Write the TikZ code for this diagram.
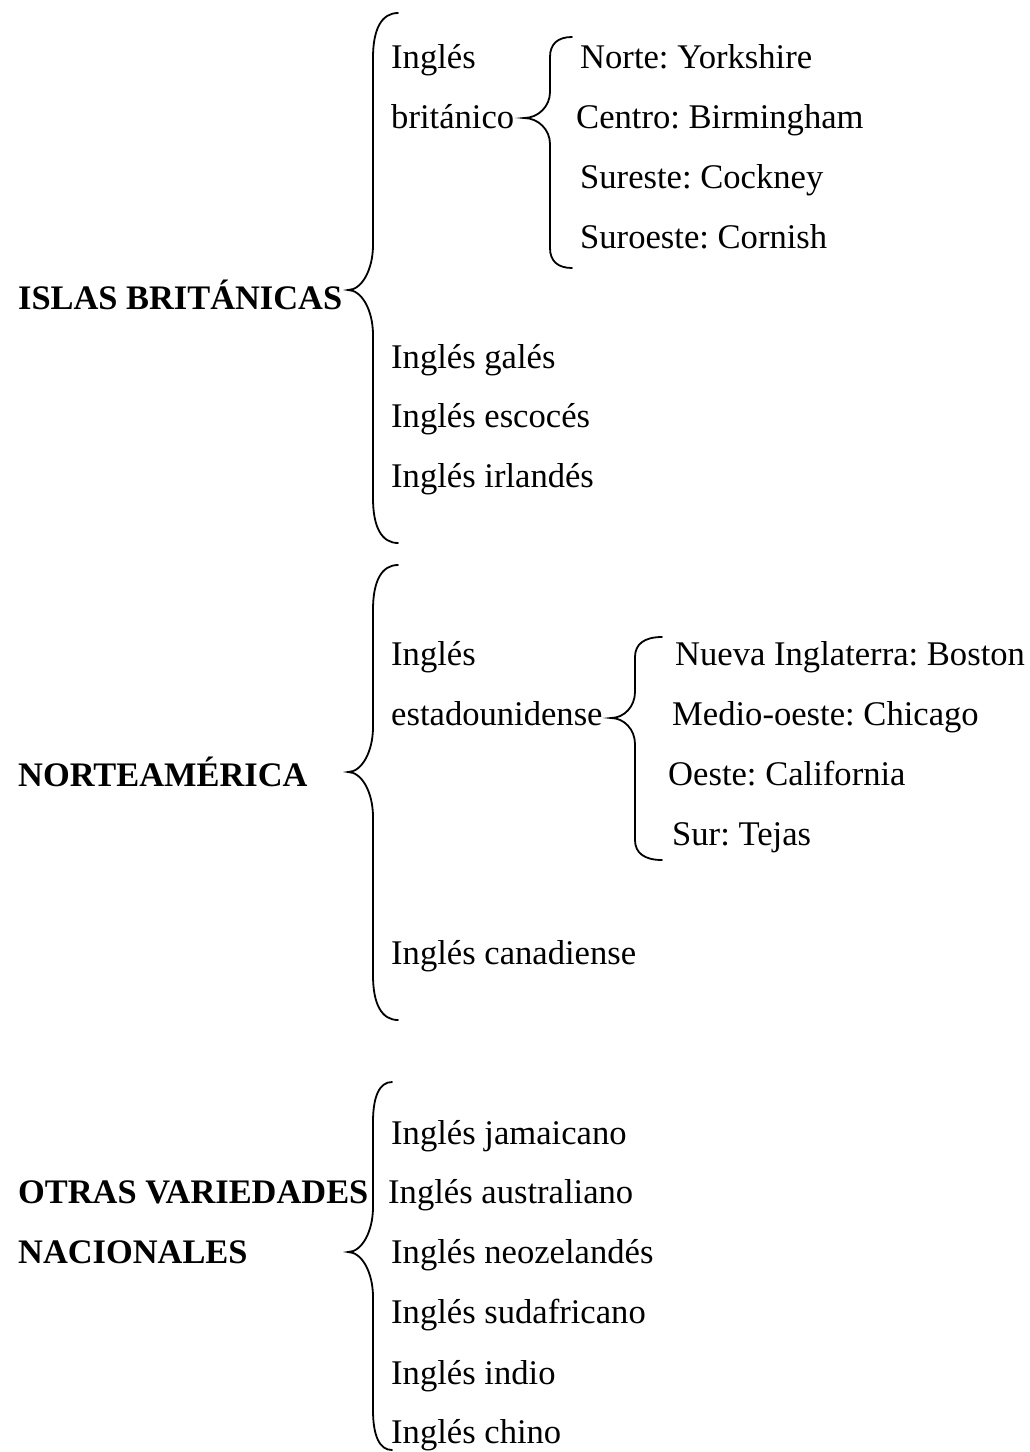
\documentclass[tikz,border=0pt]{standalone}
\usepackage{fontspec}
\setmainfont{Liberation Serif}
\frenchspacing
\begin{document}
% Curly brace: end x, line x, tip x, top y, tip y, bottom y, hook length, bend length
\newcommand\curly[8]{%
  \draw[bracestroke] (#1,#4) .. controls ({#2+0.35*(#1-#2)},#4) and (#2,{#4+0.35*#7}) .. (#2,{#4+#7})
    -- (#2,{#5-#8}) .. controls (#2,{#5-0.45*#8}) and ({#3+0.55*(#2-#3)},#5) .. (#3,#5)
    .. controls ({#3+0.55*(#2-#3)},#5) and (#2,{#5+0.45*#8}) .. (#2,{#5+#8})
    -- (#2,{#6-#7}) .. controls (#2,{#6-0.35*#7}) and ({#2+0.35*(#1-#2)},#6) .. (#1,#6);}
\begin{tikzpicture}[x=1pt,y=-1pt,
  lbl/.style={anchor=base west, inner sep=0pt, font=\fontsize{34.6}{42}\selectfont},
  head/.style={lbl, font=\fontsize{34.4}{42}\selectfont\bfseries},
  bracestroke/.style={line width=1.8pt, line cap=round}]
\useasboundingbox (0,0) rectangle (1029,1452);

% Islas Británicas
\node[head] (islas) at (18,309) {ISLAS BRITÁNICAS};
\curly{398}{373}{348}{13}{290}{543}{45}{45}
\node[lbl] (brit1) at (391,68) {Inglés};
\node[lbl] (brit2) at (391,128) {británico};
\curly{572}{550}{524}{37}{118}{268}{20}{26}
\node[lbl] (norte) at (580,68) {Norte: Yorkshire};
\node[lbl] (centro) at (576,128) {Centro: Birmingham};
\node[lbl] (sureste) at (580,188) {Sureste: Cockney};
\node[lbl] (suroeste) at (580,248) {Suroeste: Cornish};
\node[lbl] (gales) at (391,368) {Inglés galés};
\node[lbl] (escoces) at (391,427) {Inglés escocés};
\node[lbl] (irlandes) at (391,487) {Inglés irlandés};

% Norteamérica
\node[head] (norteam) at (18,786) {NORTEAMÉRICA};
\curly{398}{373}{348}{565}{772}{1020}{45}{45}
\node[lbl] (usa1) at (391,665) {Inglés};
\node[lbl] (usa2) at (391,725) {estadounidense};
\curly{662}{635}{611}{637}{718}{860}{20}{26}
\node[lbl] (nueva) at (675,665) {Nueva Inglaterra: Boston};
\node[lbl] (medio) at (672,725) {Medio-oeste: Chicago};
\node[lbl] (oeste) at (668,785) {Oeste: California};
\node[lbl] (sur) at (672,845) {Sur: Tejas};
\node[lbl] (canad) at (391,964) {Inglés canadiense};

% Otras variedades nacionales
\node[head] (otras1) at (18,1203) {OTRAS VARIEDADES};
\node[head] (otras2) at (18,1263) {NACIONALES};
\curly{392}{373}{348}{1082}{1252}{1450}{40}{45}
\node[lbl] (jam) at (391,1144) {Inglés jamaicano};
\node[lbl] (aus) at (388,1203) {Inglés australiano};
\node[lbl] (nz) at (391,1263) {Inglés neozelandés};
\node[lbl] (sud) at (391,1323) {Inglés sudafricano};
\node[lbl] (indio) at (391,1384) {Inglés indio};
\node[lbl] (chino) at (391,1443) {Inglés chino};
\end{tikzpicture}
\end{document}
